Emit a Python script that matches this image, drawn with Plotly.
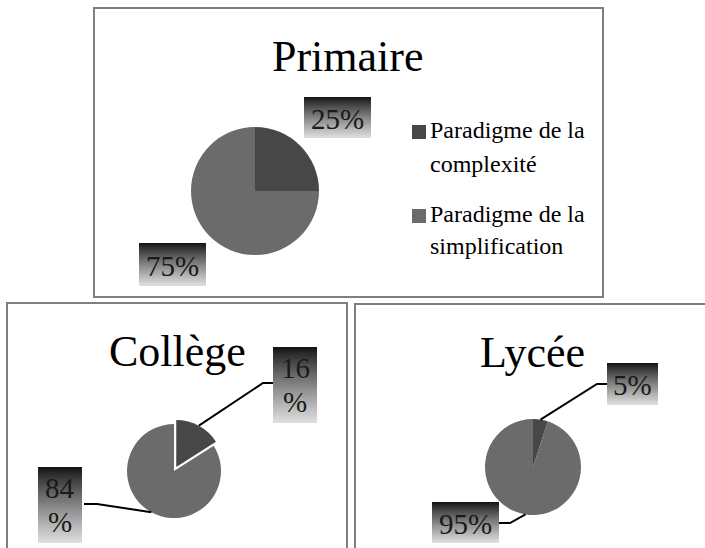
import math
import plotly.graph_objects as go

# ---------------- data ----------------
levels = ["Primaire", "Collège", "Lycée"]
paradigms = ["Paradigme de la complexité", "Paradigme de la simplification"]
legend_lines = [["Paradigme de la", "complexité"], ["Paradigme de la", "simplification"]]
primaire = [25, 75]
college = [16, 84]
lycee = [5, 95]

# ---------------- style ----------------
W, H = 705, 548
COLORS = ["#474747", "#6b6b6b"]
FONT = "Liberation Serif, Times New Roman, serif"
BORDER = "#7f7f7f"


def px(x):
    return x / W


def py(y):
    return 1 - y / H


panels = [
    dict(title=levels[0], values=primaire, cx=255, cy=191, r=64, pull=0.0,
         tpos=(347.5, 57), box=(94, 8, 603, 297),
         labels=[dict(box=(304, 97, 371, 138), wrap=False, leader=None),
                 dict(box=(139, 243, 206, 286), wrap=False, leader=None)]),
    dict(title=levels[1], values=college, cx=174, cy=471, r=47, pull=0.1,
         tpos=(177.5, 351), box=(7, 303, 347, 560),
         labels=[dict(box=(273, 347, 317, 423), wrap=True, leader=[(263, 383), (273, 383)]),
                 dict(box=(38, 467, 82, 543), wrap=True, leader=[(97, 504), (84, 504)])]),
    dict(title=levels[2], values=lycee, cx=533, cy=467, r=48, pull=0.0,
         tpos=(532.5, 352), box=(355, 304, 712, 560),
         labels=[dict(box=(607, 363, 658, 405), wrap=False, leader=[(597, 384), (607, 384)]),
                 dict(box=(432, 502, 499, 543), wrap=False, leader=[(510, 523), (499, 523)])]),
]

fig = go.Figure()
shapes = []
annotations = []


def gradient_box(x0, y0, x1, y1, n=32):
    h = (y1 - y0) / n
    for i in range(n):
        t = (i + 0.5) / n
        g = int(round(16 + 208 * t ** 0.85))
        col = f"rgb({g},{g},{g})"
        # each stripe runs to the bottom of the box so that no gaps appear
        shapes.append(dict(type="rect", xref="paper", yref="paper",
                           x0=px(x0), x1=px(x1), y0=py(y1), y1=py(y0 + i * h),
                           fillcolor=col, line=dict(width=0), layer="above"))


for p in panels:
    bx0, by0, bx1, by1 = p["box"]
    shapes.append(dict(type="rect", xref="paper", yref="paper",
                       x0=px(bx0), x1=px(bx1), y0=py(by1), y1=py(by0),
                       line=dict(color=BORDER, width=2), fillcolor="rgba(0,0,0,0)", layer="below"))
    R = p["r"] * (1 + p["pull"])
    fig.add_trace(go.Pie(
        values=p["values"], labels=paradigms, sort=False, direction="clockwise", rotation=0,
        pull=[p["pull"], 0], textinfo="none", hoverinfo="label+percent", showlegend=False,
        marker=dict(colors=COLORS, line=dict(width=0)),
        domain=dict(x=[px(p["cx"] - R), px(p["cx"] + R)], y=[py(p["cy"] + R), py(p["cy"] - R)]),
    ))
    annotations.append(dict(text=p["title"], x=px(p["tpos"][0]), y=py(p["tpos"][1]),
                            xref="paper", yref="paper", showarrow=False,
                            xanchor="center", yanchor="middle",
                            font=dict(family=FONT, size=44, color="#000000")))
    total = sum(p["values"])
    start = 0.0
    for k, (v, lab) in enumerate(zip(p["values"], p["labels"])):
        mid = (start + v / 2) / total * 2 * math.pi
        start += v
        x0, y0, x1, y1 = lab["box"]
        gradient_box(x0, y0, x1, y1)
        cxl = (x0 + x1) / 2
        if lab["wrap"]:
            ylines = [(y0 + (y1 - y0) * 0.27), (y0 + (y1 - y0) * 0.73)]
            texts = [f"{v}", "%"]
        else:
            ylines = [(y0 + y1) / 2 + 1]
            texts = [f"{v}%"]
        for tt, yy in zip(texts, ylines):
            annotations.append(dict(text=tt, x=px(cxl), y=py(yy), xref="paper", yref="paper",
                                    showarrow=False, xanchor="center", yanchor="middle",
                                    font=dict(family=FONT, size=29, color="#1a1a1a")))
        if lab["leader"]:
            rr = p["r"] * (1 + (p["pull"] if k == 0 else 0))
            sx = p["cx"] + rr * math.sin(mid)
            sy = p["cy"] - rr * math.cos(mid)
            pts = [(sx, sy)] + lab["leader"]
            path = "M " + " L ".join(f"{px(a):.5f},{py(b):.5f}" for a, b in pts)
            shapes.append(dict(type="path", xref="paper", yref="paper", path=path,
                               line=dict(color="#000000", width=2), layer="above"))

# legend of the Primaire panel
legend_y = [(125, [130, 164]), (209, [214, 246])]
for col, lines, (sq_y, ys) in zip(COLORS, legend_lines, legend_y):
    shapes.append(dict(type="rect", xref="paper", yref="paper",
                       x0=px(412), x1=px(426), y0=py(sq_y + 14), y1=py(sq_y),
                       fillcolor=col, line=dict(width=0)))
    for tt, yy in zip(lines, ys):
        annotations.append(dict(text=tt, x=px(428), y=py(yy), xref="paper", yref="paper",
                                showarrow=False, xanchor="left", yanchor="middle",
                                font=dict(family=FONT, size=24, color="#000000")))

fig.update_layout(
    width=W, height=H, margin=dict(l=0, r=0, t=0, b=0),
    paper_bgcolor="white", plot_bgcolor="white",
    shapes=shapes, annotations=annotations, showlegend=False,
)

fig.write_html("out.html", config={"displayModeBar": False},
               post_script="document.body.style.margin='0';document.body.style.overflow='hidden';")
